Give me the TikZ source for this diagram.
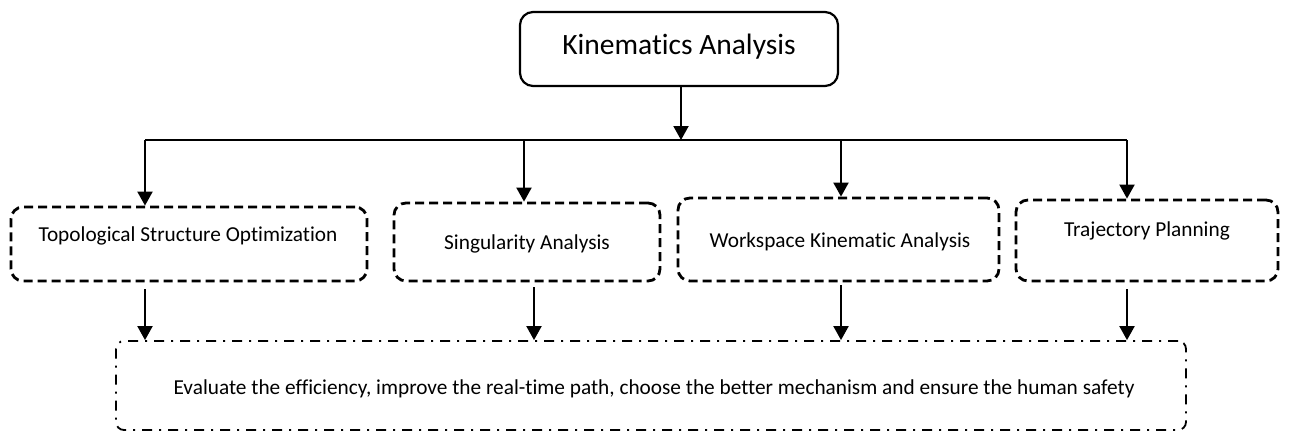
\documentclass[tikz,border=0pt]{standalone}
\usepackage{fontspec}
\setmainfont[Ligatures={NoCommon}]{Carlito}
\usetikzlibrary{arrows.meta}
\begin{document}
\begin{tikzpicture}[x=1pt,y=-1pt,
  topbox/.style={draw,line width=2.2pt,rounded corners=13pt,minimum width=318pt,minimum height=74pt,inner sep=0pt},
  dbox/.style={draw,line width=2.8pt,rounded corners=12pt,dash pattern=on 9pt off 5pt,minimum height=78pt,inner sep=0pt},
  ddbox/.style={draw,line width=1.8pt,rounded corners=8pt,dash pattern=on 10pt off 7pt on 2pt off 7pt,minimum width=1070pt,minimum height=89pt,inner sep=0pt},
  txt/.style={inner sep=0pt,font=\fontsize{21.3}{25}\selectfont},
  arr/.style={line width=2pt,-{Triangle[width=15pt,length=14pt]}},
  ln/.style={line width=2pt}]
\useasboundingbox (0,0) rectangle (1289,433);
% top
\node[topbox] (top) at (679,49) {};
\node[inner sep=0pt,font=\fontsize{29.5}{35}\selectfont] (toptxt) at (679,47) {Kinematics Analysis};
% hub line
\coordinate (hub) at (681,140);
\coordinate (j1) at (145,140);
\coordinate (j2) at (524,140);
\coordinate (j3) at (841,140);
\coordinate (j4) at (1127,140);
\draw[arr] (top.south -| hub) -- (hub);
\draw[ln] (j1) -- (j4);
% boxes
\node[dbox,minimum width=356pt,minimum height=74pt] (b1) at (189,244) {};
\node[txt] (t1) at (188,236) {Topological Structure Optimization};
\node[dbox,minimum width=266pt] (b2) at (527,242) {};
\node[txt] (t2) at (527,244) {Singularity Analysis};
\node[dbox,minimum width=321pt,minimum height=83pt] (b3) at (838.5,239.5) {};
\node[txt] (t3) at (840,242) {Workspace Kinematic Analysis};
\node[dbox,minimum width=262pt,minimum height=81pt] (b4) at (1147,240.5) {};
\node[txt] (t4) at (1147,231) {Trajectory Planning};
% arrows down
\draw[arr] (j1) -- (j1 |- b1.north);
\draw[arr] (j2) -- (j2 |- b2.north);
\draw[arr] (j3) -- (j3 |- b3.north);
\draw[arr] (j4) -- (j4 |- b4.north);
% bottom box
\node[ddbox] (bot) at (651,385.5) {};
\node[inner sep=0pt,font=\fontsize{21.3}{25}\selectfont] (bt) at (654,389) {Evaluate the efficiency, improve the real-time path, choose the better mechanism and ensure the human safety};
\coordinate (k1) at (145,0);
\coordinate (k2) at (534,0);
\coordinate (k3) at (841,0);
\coordinate (k4) at (1127,0);
\draw[arr,shorten <=7pt] (k1 |- b1.south) -- (k1 |- bot.north);
\draw[arr,shorten <=5pt] (k2 |- b2.south) -- (k2 |- bot.north);
\draw[arr,shorten <=3pt] (k3 |- b3.south) -- (k3 |- bot.north);
\draw[arr,shorten <=7pt] (k4 |- b4.south) -- (k4 |- bot.north);
\end{tikzpicture}
\end{document}
